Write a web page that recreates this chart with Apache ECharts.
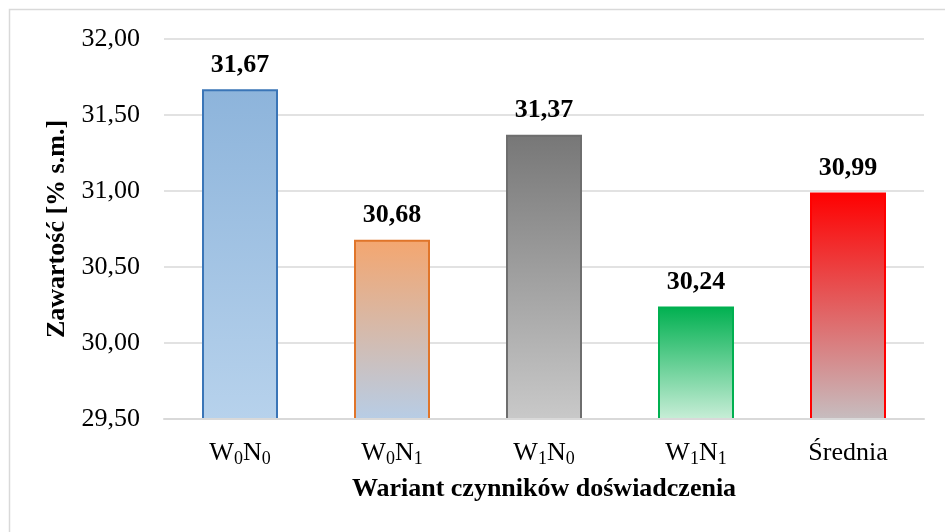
<!DOCTYPE html>
<html>
<head>
<meta charset="utf-8">
<script src="https://cdn.jsdelivr.net/npm/echarts@6/dist/echarts.min.js"></script>
<style>
  html, body { margin: 0; padding: 0; background: #fff; }
  #chart { width: 945px; height: 532px; }
</style>
</head>
<body>
<div id="chart"></div>
<script>
// dane
const categories = ["W0N0", "W0N1", "W1N0", "W1N1", "Średnia"];
const values = [31.67, 30.68, 31.37, 30.24, 30.99];
const yTicks = [29.5, 30.0, 30.5, 31.0, 31.5, 32.0];

// kolory słupków: [góra, dół, obramowanie]
const barColors = [
  ["#8DB4DB", "#B7D2EC", "#3A75B7"],
  ["#F4A66F", "#B7CDE6", "#E0752A"],
  ["#777777", "#C9C9C9", "#6E6E6E"],
  ["#00B050", "#C9EED8", "#00B050"],
  ["#FF0000", "#C6BEC0", "#FF0000"]
];

const FONT = "'Liberation Serif', 'DejaVu Serif', serif";
const FS = 26;
const fmt = (v) => v.toFixed(2).replace(".", ",");

// etykieta kategorii z indeksami dolnymi
function catLabel(name) {
  const m = name.match(/^W(\d)N(\d)$/);
  if (!m) return "{n|" + name + "}";
  return "{n|W}{s|" + m[1] + "}{n|N}{s|" + m[2] + "}";
}

const chart = echarts.init(document.getElementById("chart"));
const option = {
  animation: false,
  backgroundColor: "#fff",
  graphic: [{
    type: "rect",
    shape: { x: 9.5, y: 9.5, width: 960, height: 560 },
    style: { fill: "none", stroke: "#D9D9D9", lineWidth: 1.5 },
    silent: true
  }],
  grid: { left: 164, right: 21, top: 39, bottom: 113 },
  xAxis: {
    type: "category",
    data: categories,
    z: 5,
    axisTick: { show: false },
    axisLine: { lineStyle: { color: "#D9D9D9", width: 2 } },
    axisLabel: {
      margin: 19,
      formatter: (v) => catLabel(v),
      rich: {
        n: { fontFamily: FONT, fontSize: FS, color: "#000", lineHeight: 30 },
        s: { fontFamily: FONT, fontSize: 18, color: "#000", lineHeight: 18, verticalAlign: "bottom" }
      }
    },
    name: "Wariant czynników doświadczenia",
    nameLocation: "middle",
    nameGap: 57,
    nameTextStyle: { fontFamily: FONT, fontSize: FS, fontWeight: "bold", color: "#000" }
  },
  yAxis: {
    type: "value",
    min: yTicks[0],
    max: yTicks[yTicks.length - 1],
    interval: 0.5,
    axisLine: { show: false },
    axisTick: { show: false },
    splitLine: { lineStyle: { color: "#D9D9D9", width: 1.5 } },
    axisLabel: {
      margin: 24,
      fontFamily: FONT,
      fontSize: FS,
      color: "#000",
      formatter: (v) => fmt(v)
    },
    name: "Zawartość [% s.m.]",
    nameLocation: "middle",
    nameGap: 89,
    nameTextStyle: { fontFamily: FONT, fontSize: FS, fontWeight: "bold", color: "#000" }
  },
  series: [{
    type: "bar",
    barWidth: "50%",
    data: values.map((v, i) => ({
      value: v,
      itemStyle: {
        color: new echarts.graphic.LinearGradient(0, 0, 0, 1, [
          { offset: 0, color: barColors[i][0] },
          { offset: 1, color: barColors[i][1] }
        ]),
        borderColor: barColors[i][2],
        borderWidth: 2
      }
    })),
    label: {
      show: true,
      position: "top",
      distance: 11,
      fontFamily: FONT,
      fontSize: FS,
      fontWeight: "bold",
      color: "#000",
      formatter: (p) => fmt(p.value)
    }
  }]
};
chart.setOption(option);
</script>
</body>
</html>
